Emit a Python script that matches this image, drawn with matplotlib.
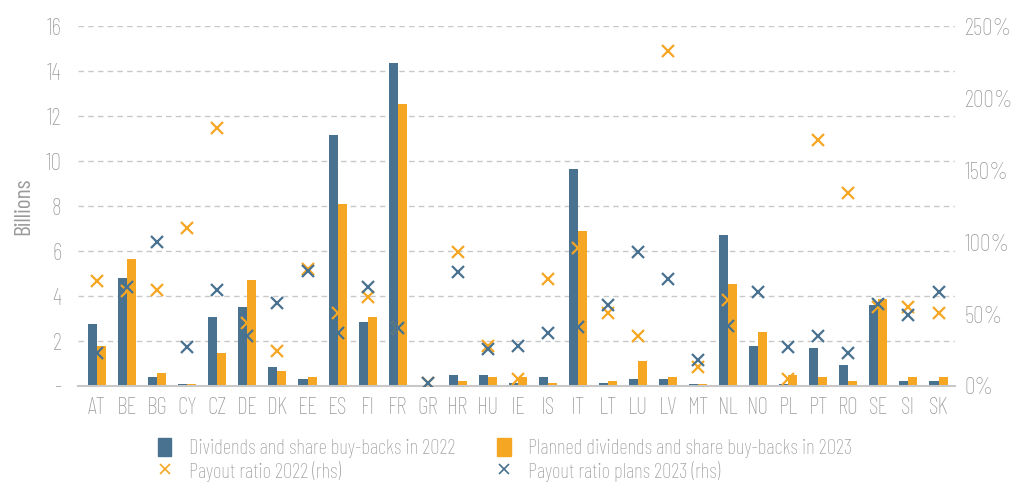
import numpy as np
import matplotlib.pyplot as plt
from matplotlib.lines import Line2D
from matplotlib.patches import Patch
from matplotlib.ticker import FuncFormatter

# Données
pays = ["AT", "BE", "BG", "CY", "CZ", "DE", "DK", "EE", "ES", "FI", "FR", "GR", "HR", "HU", "IE",
        "IS", "IT", "LT", "LU", "LV", "MT", "NL", "NO", "PL", "PT", "RO", "SE", "SI", "SK"]
div_2022 = [2.76, 4.80, 0.40, 0.09, 3.07, 3.51, 0.84, 0.31, 11.16, 2.84, 14.36, 0.05, 0.49, 0.49, 0.13,
            0.40, 9.64, 0.13, 0.31, 0.31, 0.07, 6.71, 1.78, 0.07, 1.69, 0.93, 3.60, 0.22, 0.22]
div_2023 = [1.78, 5.64, 0.58, 0.08, 1.47, 4.71, 0.67, 0.40, 8.09, 3.07, 12.53, 0.05, 0.22, 0.40, 0.40,
            0.13, 6.89, 0.22, 1.11, 0.40, 0.07, 4.53, 2.40, 0.49, 0.40, 0.22, 3.87, 0.40, 0.40]
payout_2022 = [73, 66, 67, 110, 179, 44, 24, 81, 51, 62, 40, 2, 93, 28, 5,
               74, 96, 51, 35, 233, 13, 60, np.nan, 5, 171, 134, 55, 55, 51]
payout_2023 = [23, 69, 100, 27, 67, 35, 58, 80, 37, 69, 40, 2, 79, 26, 28,
               37, 41, 56, 93, 74, 18, 42, 65, 27, 35, 23, 57, 49, 65]

labels = ["Dividends and share buy-backs in 2022", "Payout ratio 2022 (rhs)",
          "Planned dividends and share buy-backs in 2023", "Payout ratio plans 2023 (rhs)"]

bleu = "#48728f"
orange = "#f5a623"
gris = "#9a9a9a"

plt.rcParams["font.family"] = ["Barlow Condensed", "DejaVu Sans"]
plt.rcParams["font.weight"] = "light"

fig = plt.figure(figsize=(10.16, 4.84), dpi=100)
ax = fig.add_axes([0.077, 0.2025, 0.863, 0.7435])
ax2 = ax.twinx()

x = np.arange(len(pays))
w = 0.3
ax.bar(x - w / 2, div_2022, w, color=bleu, zorder=2)
ax.bar(x + w / 2, div_2023, w, color=orange, zorder=2)

ax2.plot(x, payout_2022, ls="none", marker="x", ms=9, mew=1.6, color=orange)
ax2.plot(x, payout_2023, ls="none", marker="x", ms=9, mew=1.6, color=bleu)

ax.set_xlim(-0.63, 28.55)
ax.set_ylim(0, 16)
ax2.set_ylim(0, 250)
ax.set_yticks(range(0, 17, 2))
ax.yaxis.set_major_formatter(FuncFormatter(lambda v, p: "-" if v == 0 else f"{v:.0f}"))
ax2.set_yticks(range(0, 251, 50))
ax2.yaxis.set_major_formatter(FuncFormatter(lambda v, p: f"{v:.0f}%"))
ax.set_xticks(x)
ax.set_xticklabels(pays)

ax.grid(axis="y", ls=(0, (4, 3)), color="#c8c8c8", lw=1, zorder=0)
ax.set_axisbelow(True)
for a in (ax, ax2):
    for s in a.spines.values():
        s.set_visible(False)
    a.tick_params(length=0, colors=gris, labelsize=17)
ax.spines["bottom"].set_visible(True)
ax.spines["bottom"].set_color("#c8c8c8")
ax.spines["bottom"].set_linewidth(1.5)
ax.tick_params(axis="x", pad=8)
ax.tick_params(axis="y", pad=12)
ax2.tick_params(axis="y", pad=7)
ax.set_ylabel("Billions", color=gris, fontsize=17, labelpad=8)

# légende
poignees = [Patch(color=bleu),
            Line2D([], [], ls="none", marker="x", ms=7, mew=1.2, color=orange),
            Patch(color=orange),
            Line2D([], [], ls="none", marker="x", ms=7, mew=1.2, color=bleu)]
fig.legend(poignees, labels,
           loc="upper left", bbox_to_anchor=(0.145, 0.116), ncol=2, frameon=False,
           fontsize=15, labelcolor=gris, handlelength=0.65, handleheight=0.95,
           columnspacing=2.0, handletextpad=0.85, labelspacing=0.1, borderpad=0)

fig.savefig("out.png", dpi=100)
